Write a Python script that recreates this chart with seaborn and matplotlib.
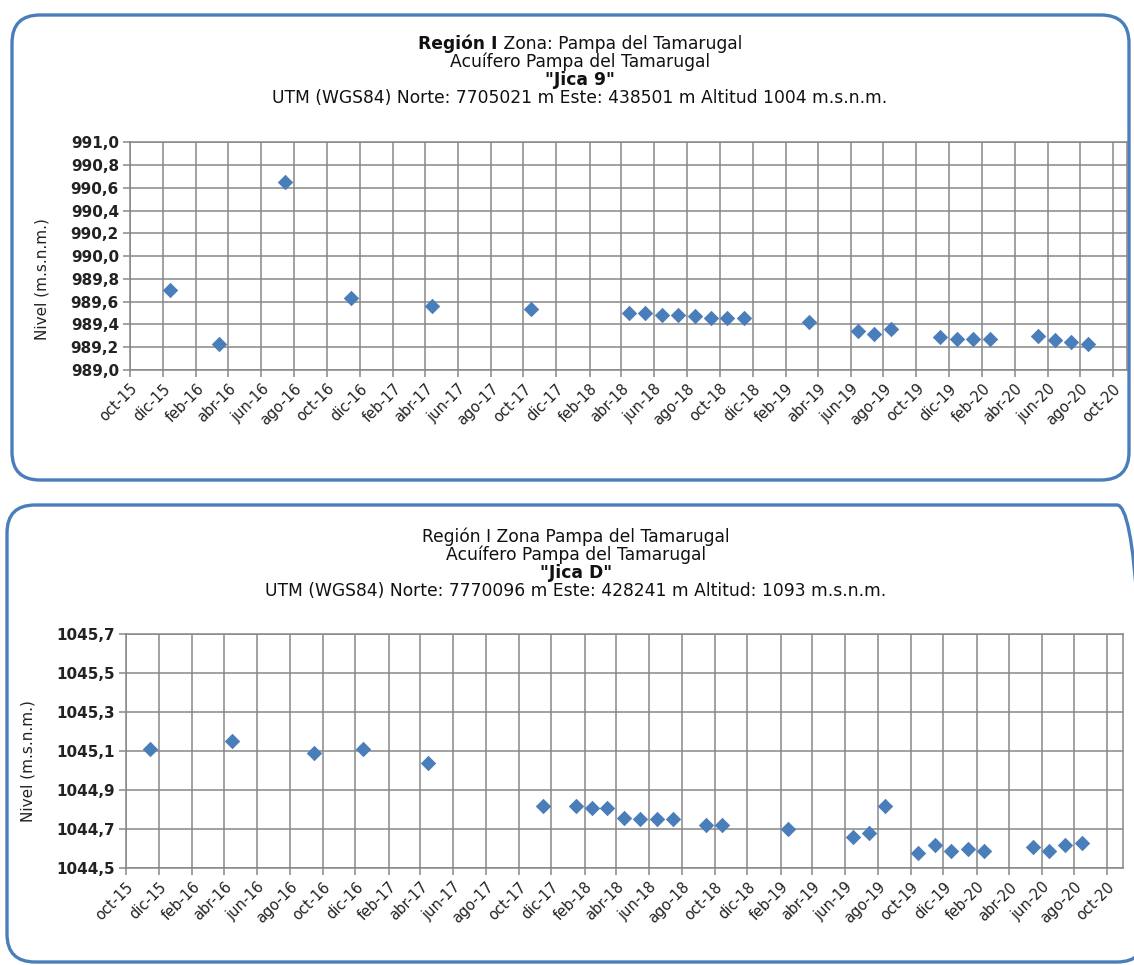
import datetime
import matplotlib
matplotlib.use("Agg")
import matplotlib.pyplot as plt
import matplotlib.dates as mdates
from matplotlib.patches import FancyBboxPatch
from matplotlib.ticker import FuncFormatter
import pandas as pd
import seaborn as sns

# Jica 9
fechas_j9 = ["2015-12-15", "2016-03-15", "2016-07-15", "2016-11-15", "2017-04-15",
             "2017-10-15", "2018-04-15", "2018-05-15", "2018-06-15", "2018-07-15",
             "2018-08-15", "2018-09-15", "2018-10-15", "2018-11-15", "2019-03-15",
             "2019-06-15", "2019-07-15", "2019-08-15", "2019-11-15", "2019-12-15",
             "2020-01-15", "2020-02-15", "2020-05-15", "2020-06-15", "2020-07-15",
             "2020-08-15"]
nivel_j9 = [989.70, 989.23, 990.65, 989.63, 989.56,
            989.54, 989.50, 989.50, 989.48, 989.48,
            989.47, 989.46, 989.46, 989.46, 989.42,
            989.34, 989.32, 989.36, 989.29, 989.27,
            989.27, 989.27, 989.30, 989.26, 989.25,
            989.23]

# Jica D
fechas_jd = ["2015-11-15", "2016-04-15", "2016-09-15", "2016-12-15", "2017-04-15",
             "2017-11-15", "2018-01-15", "2018-02-15", "2018-03-15", "2018-04-15",
             "2018-05-15", "2018-06-15", "2018-07-15", "2018-09-15", "2018-10-15",
             "2019-02-15", "2019-06-15", "2019-07-15", "2019-08-15", "2019-10-15",
             "2019-11-15", "2019-12-15", "2020-01-15", "2020-02-15", "2020-05-15",
             "2020-06-15", "2020-07-15", "2020-08-15"]
nivel_jd = [1045.11, 1045.15, 1045.09, 1045.11, 1045.04,
            1044.82, 1044.82, 1044.81, 1044.81, 1044.76,
            1044.75, 1044.75, 1044.75, 1044.72, 1044.72,
            1044.70, 1044.66, 1044.68, 1044.82, 1044.58,
            1044.62, 1044.59, 1044.60, 1044.59, 1044.61,
            1044.59, 1044.62, 1044.63]

meses = ["ene", "feb", "mar", "abr", "may", "jun", "jul", "ago", "sep", "oct", "nov", "dic"]

titulos_j9 = [[("Región I", "bold"), (" Zona: Pampa del Tamarugal", "normal")],
              [("Acuífero Pampa del Tamarugal", "normal")],
              [('"Jica 9"', "bold")],
              [("UTM (WGS84) Norte: 7705021 m Este: 438501 m Altitud 1004 m.s.n.m.", "normal")]]
titulos_jd = [[("Región I Zona Pampa del Tamarugal", "normal")],
              [("Acuífero Pampa del Tamarugal", "normal")],
              [('"Jica D"', "bold")],
              [("UTM (WGS84) Norte: 7770096 m Este: 428241 m Altitud: 1093 m.s.n.m.", "normal")]]

AZUL = "#4a7ebb"
GRIS = "#878787"
W, H = 1134, 965

sns.set_theme(style="white")
plt.rcParams['font.family'] = ['DejaVu Sans']

fig = plt.figure(figsize=(W / 100, H / 100), dpi=100)
fig.patch.set_facecolor("white")

# marcos redondeados
for x0, y0, x1, y1 in [(12, 15, 1129, 480), (7, 505, 1145, 962)]:
    caja = FancyBboxPatch((x0 / 100, (H - y1) / 100), (x1 - x0) / 100, (y1 - y0) / 100,
                          boxstyle="round,pad=0,rounding_size=0.28",
                          transform=fig.dpi_scale_trans, facecolor="none",
                          edgecolor=AZUL, linewidth=2.4, zorder=-1)
    fig.patches.append(caja)


def titulo(lineas, cx, ys, size=12.3):
    r = fig.canvas.get_renderer()
    for partes, y in zip(lineas, ys):
        objs = [fig.text(0, 1 - y / H, t, fontsize=size, fontweight=w, va="center",
                         ha="left", color="#111111") for t, w in partes]
        anchos = [o.get_window_extent(r).width for o in objs]
        x = cx - sum(anchos) / 2
        for o, a in zip(objs, anchos):
            o.set_x(x / W)
            x += a


def fmt_fecha(v, pos):
    d = mdates.num2date(v)
    return "{}-{:02d}".format(meses[d.month - 1], d.year % 100)


def grafico(rect, fechas, nivel, ylim, yticks, xmax, ylab_pos):
    ax = fig.add_axes(rect)
    df = pd.DataFrame({"fecha": pd.to_datetime(fechas), "nivel": nivel})
    sns.scatterplot(data=df, x="fecha", y="nivel", marker="D", s=62, color=AZUL,
                    linewidth=0, ax=ax, zorder=3)
    ax.set_xlim(datetime.datetime(2015, 10, 1), xmax)
    ax.set_ylim(*ylim)
    ax.set_yticks(yticks)
    ax.xaxis.set_major_locator(mdates.MonthLocator(bymonth=[2, 4, 6, 8, 10, 12]))
    ax.xaxis.set_major_formatter(FuncFormatter(fmt_fecha))
    ax.yaxis.set_major_formatter(FuncFormatter(lambda v, p: "{:.1f}".format(v).replace(".", ",")))
    ax.grid(True, color=GRIS, linewidth=1.1)
    ax.set_axisbelow(True)
    for s in ax.spines.values():
        s.set_color(GRIS)
        s.set_linewidth(1.1)
    ax.tick_params(axis="both", which="major", length=5, width=1.1, color=GRIS,
                   left=True, bottom=True, pad=3)
    for t in ax.get_yticklabels():
        t.set_fontsize(11)
        t.set_fontweight("bold")
        t.set_color("#222222")
    for t in ax.get_xticklabels():
        t.set_fontsize(10.5)
        t.set_rotation(45)
        t.set_ha("right")
        t.set_rotation_mode("anchor")
        t.set_color("#222222")
    ax.set_xlabel("")
    ax.set_ylabel("")
    fig.text(ylab_pos[0] / W, 1 - ylab_pos[1] / H, "Nivel (m.s.n.m.)", rotation=90,
             fontsize=11, ha="center", va="center", color="#222222")
    return ax


ax1 = grafico([130 / W, 1 - 370 / H, 996.7 / W, 227.7 / H], fechas_j9, nivel_j9,
              (989.0, 991.0), [989.0 + 0.2 * i for i in range(11)],
              datetime.datetime(2020, 10, 26), (42, 279))
ax2 = grafico([126 / W, 1 - 868.3 / H, 997.3 / W, 234.3 / H], fechas_jd, nivel_jd,
              (1044.5, 1045.7), [1044.5 + 0.2 * i for i in range(7)],
              datetime.datetime(2020, 10, 31), (28, 761))

titulo(titulos_j9, 580, [44, 62, 80, 98])
titulo(titulos_jd, 576, [537, 555, 573, 591])

fig.savefig("out.png", dpi=100, facecolor="white")
